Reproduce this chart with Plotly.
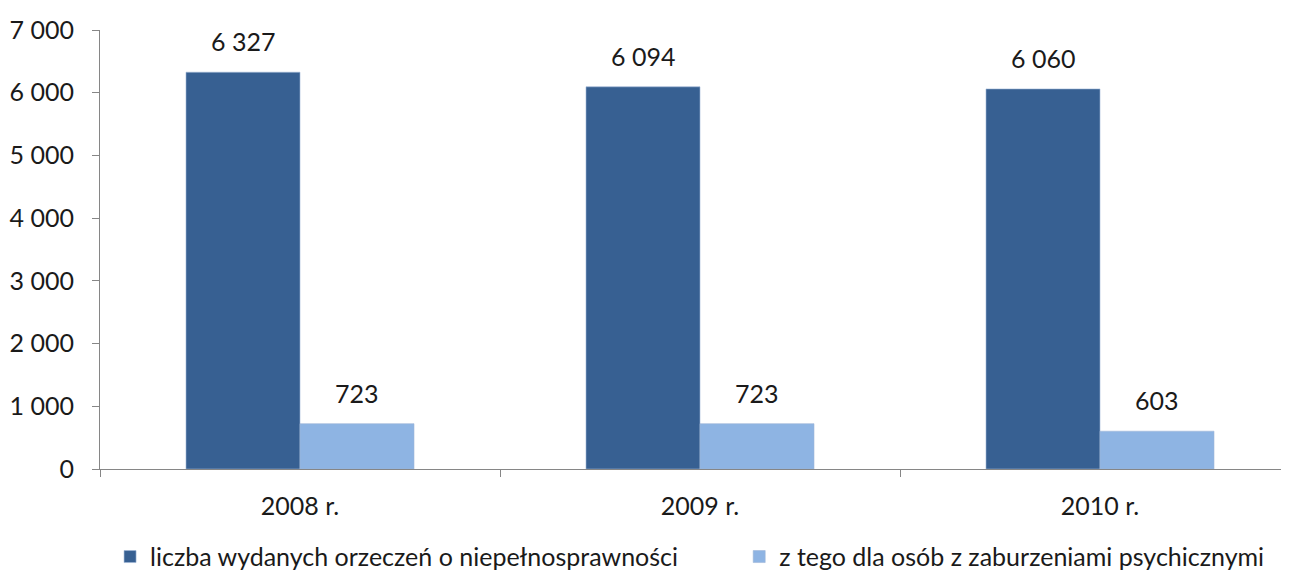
import plotly.graph_objects as go

categories = ["2008 r.", "2009 r.", "2010 r."]
series_names = ["liczba wydanych orzeczeń o niepełnosprawności",
                "z tego dla osób z zaburzeniami psychicznymi"]
total_values = [6327, 6094, 6060]
psych_values = [723, 723, 603]
y_ticks = [0, 1000, 2000, 3000, 4000, 5000, 6000, 7000]

colors = ["#376092", "#8EB4E3"]
FONT = "Lato"
FS = 25

fig = go.Figure()
for name, vals, col, lg in zip(series_names, [total_values, psych_values], colors,
                               ["legend", "legend2"]):
    fig.add_trace(go.Bar(
        x=categories, y=vals, name=name, legend=lg,
        marker=dict(color=col, line=dict(color="#9fb7d6", width=0.6)),
    ))

# value labels
for i, c in enumerate(categories):
    for vals, xs in [(total_values, -57), (psych_values, 57)]:
        v = vals[i]
        fig.add_annotation(
            x=c, y=v, xref="x", yref="y", text=f"{v:,}".replace(",", " "),
            showarrow=False, xshift=xs, yshift=31, yanchor="middle",
            font=dict(family=FONT, size=FS, color="#1a1a1a"),
        )

leg_common = dict(orientation="h", xanchor="left", y=-0.2, yanchor="middle",
                  font=dict(family=FONT, size=FS, color="#1a1a1a"),
                  bgcolor="rgba(0,0,0,0)")

fig.update_layout(
    width=1289, height=572,
    margin=dict(l=92, r=0, t=22, b=111),
    paper_bgcolor="white", plot_bgcolor="white",
    barmode="group", bargap=0.43, bargroupgap=0,
    font=dict(family=FONT, size=FS, color="#1a1a1a"),
    separators=", ",
    showlegend=True,
    legend=dict(x=0.0084, **leg_common),
    legend2=dict(x=0.534, **leg_common),
)
fig.update_xaxes(
    type="category", range=[-0.5, 2.4925],
    showline=True, linecolor="#868686", linewidth=1,
    ticks="outside", ticklen=7, tickcolor="#868686", tickson="boundaries",
    ticklabelstandoff=15,
    showgrid=False, zeroline=False,
)
fig.update_yaxes(
    range=[0, 7000], tickvals=y_ticks,
    ticktext=[f"{v:,}".replace(",", " ") for v in y_ticks],
    showline=True, linecolor="#868686", linewidth=1,
    ticks="outside", ticklen=7, tickcolor="#868686",
    ticklabelstandoff=13,
    showgrid=False, zeroline=False,
)

fig.write_html("out.html")
